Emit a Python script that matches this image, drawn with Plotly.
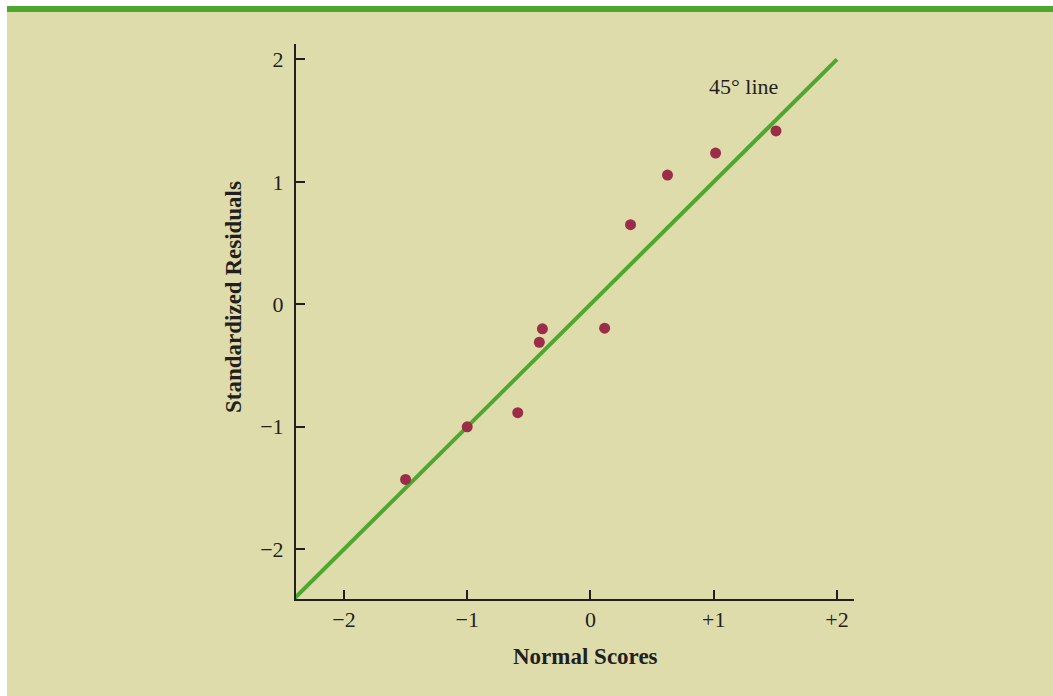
import plotly.graph_objects as go

# Data
normal_scores = [-1.50, -1.00, -0.59, -0.415, -0.39, 0.115, 0.325, 0.625, 1.015, 1.505]
std_residuals = [-1.43, -1.00, -0.885, -0.31, -0.20, -0.195, 0.65, 1.055, 1.235, 1.415]
line_x = [-2.4, 2.0]
line_y = [-2.4, 2.0]
x_tickvals = [-2, -1, 0, 1, 2]
x_ticktext = ["\u22122", "\u22121", "0", "+1", "+2"]
y_tickvals = [-2, -1, 0, 1, 2]
y_ticktext = ["\u22122", "\u22121", "0", "1", "2"]

BG = "#dfdcab"
GREEN = "#4ea72e"
DOT = "#9b2d48"
INK = "#231f20"
FONT = "Liberation Serif"

OFFX, OFFY = 7, 6  # page body margin (set below via post_script)
W, H = 1053 - OFFX, 696 - OFFY
L, R = 296 - OFFX, 1053 - 854
T, B = 44 - OFFY, 696 - 599
pw, ph = W - L - R, H - T - B

def px_x(px):  # page pixel -> paper
    return (px - OFFX - L) / pw

def px_y(py):
    return (H - B - (py - OFFY)) / ph

fig = go.Figure()
fig.add_trace(go.Scatter(x=line_x, y=line_y, mode="lines",
                         line=dict(color=GREEN, width=4), hoverinfo="skip",
                         showlegend=False))
fig.add_trace(go.Scatter(x=normal_scores, y=std_residuals, mode="markers",
                         marker=dict(color=DOT, size=11), showlegend=False))

fig.add_annotation(x=0.945, y=1.776, text="45\u00b0 line", showarrow=False,
                   xanchor="left", yanchor="middle",
                   font=dict(family=FONT, size=22, color=INK))
fig.add_annotation(xref="paper", yref="paper", x=px_x(585), y=px_y(656),
                   text="<b>Normal Scores</b>", showarrow=False,
                   xanchor="center", yanchor="middle",
                   font=dict(family=FONT, size=23, color=INK))
fig.add_annotation(xref="paper", yref="paper", x=px_x(233), y=px_y(297),
                   text="<b>Standardized Residuals</b>", showarrow=False,
                   textangle=-90, xanchor="center", yanchor="middle",
                   font=dict(family=FONT, size=23, color=INK))

shapes = [
    dict(type="rect", xref="paper", yref="paper", x0=px_x(0), x1=px_x(1080),
         y0=px_y(12), y1=px_y(0), fillcolor=GREEN, line=dict(width=0),
         layer="above"),
]

axis_common = dict(showgrid=False, zeroline=False, showline=True,
                   linecolor=INK, linewidth=2, ticks="inside", ticklen=9,
                   tickwidth=2, tickcolor=INK,
                   tickfont=dict(family=FONT, size=22, color=INK))

fig.update_layout(
    width=W, height=H,
    margin=dict(l=L, r=R, t=T, b=B, autoexpand=False),
    paper_bgcolor=BG, plot_bgcolor=BG,
    shapes=shapes,
    xaxis=dict(range=[-2.389, 2.138], tickmode="array", tickvals=x_tickvals,
               ticktext=x_ticktext, ticklabelstandoff=0, **axis_common),
    yaxis=dict(range=[-2.406, 2.125], tickmode="array", tickvals=y_tickvals,
               ticktext=y_ticktext, ticklabelstandoff=6, **axis_common),
)

post = ("document.documentElement.style.overflow='hidden';"
        "document.body.style.overflow='hidden';"
        "document.body.style.margin='6px 0 0 7px';")

fig.write_html("out.html", post_script=post)
